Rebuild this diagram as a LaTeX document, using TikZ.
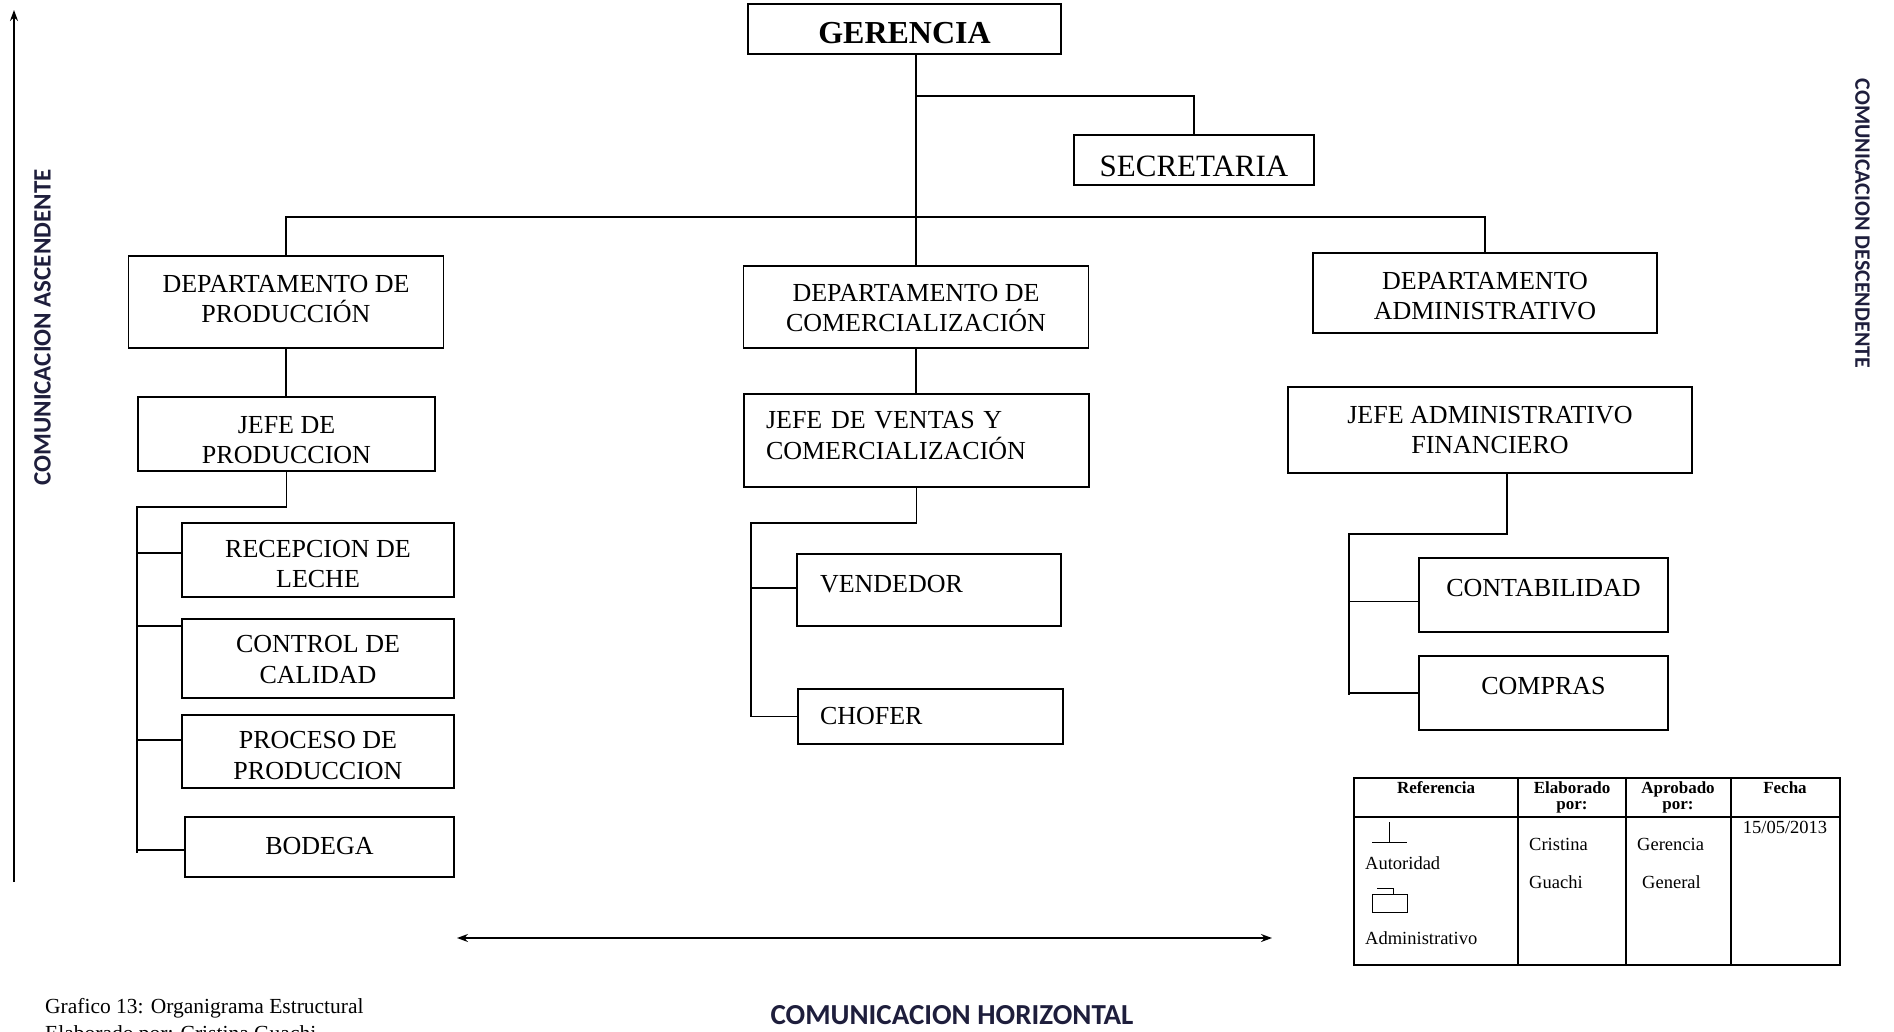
\documentclass[tikz,border=0pt]{standalone}
\usepackage{fontspec}
\setmainfont{Liberation Serif}
\newfontfamily\calib{Carlito}
\usetikzlibrary{arrows.meta}
\definecolor{labcol}{HTML}{1E1E3C}
\begin{document}
\begin{tikzpicture}[x=1pt,y=-1pt,
  box/.style={draw, line width=1.7pt, inner sep=0pt},
  txt/.style={inner sep=0pt, align=center, font=\fontsize{26}{30.5}\selectfont},
  conn/.style={line width=1.7pt},
  arr/.style={line width=1.6pt, {Stealth[length=11pt,width=8pt]}-{Stealth[length=11pt,width=8pt]}},
  side/.style={font=\calib\bfseries\fontsize{25}{30}\selectfont, text=labcol, inner sep=0pt},
  tabh/.style={font=\bfseries\fontsize{17}{16}\selectfont, inner sep=0pt, anchor=base},
  tabt/.style={font=\fontsize{18.5}{20}\selectfont, inner sep=0pt, anchor=base west},
]
\useasboundingbox (0,0) rectangle (1894,1032);

% ---- boxes ----
\node[box, minimum width=313pt, minimum height=50pt,
  label={[txt, yshift=-4.5pt, font=\bfseries\fontsize{32}{36}\selectfont]center:GERENCIA}] (ger) at (904.5,29) {};
\node[box, minimum width=240pt, minimum height=50pt,
  label={[txt, yshift=-6pt, font=\fontsize{31}{34}\selectfont]center:SECRETARIA}] (sec) at (1194,160) {};

\node[box, minimum width=315pt, minimum height=92pt,
  label={[txt, yshift=3pt]center:{DEPARTAMENTO DE\\PRODUCCIÓN}}] (dprod) at (286,302) {};
\node[box, minimum width=345pt, minimum height=82pt,
  label={[txt, yshift=-1pt]center:{DEPARTAMENTO DE\\COMERCIALIZACIÓN}}] (dcom) at (916,307) {};
\node[box, minimum width=344pt, minimum height=80pt,
  label={[txt, yshift=-3pt]center:{DEPARTAMENTO\\ADMINISTRATIVO}}] (dadm) at (1485,293) {};

\node[box, minimum width=297pt, minimum height=74pt,
  label={[txt, yshift=-6pt]center:{JEFE DE\\PRODUCCION}}] (jprod) at (286.5,434) {};
\node[box, minimum width=345pt, minimum height=93pt,
  label={[txt, align=left, text width=301pt, yshift=5pt]center:{JEFE DE VENTAS Y\\COMERCIALIZACIÓN}}] (jven) at (916.5,440.5) {};
\node[box, minimum width=404pt, minimum height=86pt,
  label={[txt, yshift=0pt]center:{JEFE ADMINISTRATIVO\\FINANCIERO}}] (jadm) at (1490,430) {};

\node[box, minimum width=272pt, minimum height=74pt,
  label={[txt, yshift=-4pt]center:{RECEPCION DE\\LECHE}}] (rec) at (318,560) {};
\node[box, minimum width=272pt, minimum height=79pt,
  label={[txt, yshift=-1pt]center:{CONTROL DE\\CALIDAD}}] (ctl) at (318,658.5) {};
\node[box, minimum width=272pt, minimum height=73pt,
  label={[txt, yshift=-4pt]center:{PROCESO DE\\PRODUCCION}}] (pro) at (318,751.5) {};
\node[box, minimum width=269pt, minimum height=60pt,
  label={[txt, yshift=1pt]center:BODEGA}] (bod) at (319.5,847) {};

\node[box, minimum width=264pt, minimum height=72pt,
  label={[txt, align=left, text width=218pt, yshift=6pt]center:VENDEDOR}] (ven) at (929,590) {};
\node[box, minimum width=265pt, minimum height=55pt,
  label={[txt, align=left, text width=221pt, yshift=0pt]center:CHOFER}] (cho) at (930.5,716.5) {};

\node[box, minimum width=249pt, minimum height=74pt,
  label={[txt, yshift=7pt]center:CONTABILIDAD}] (cont) at (1543.5,595) {};
\node[box, minimum width=249pt, minimum height=74pt,
  label={[txt, yshift=7pt]center:COMPRAS}] (comp) at (1543.5,693) {};

% ---- connectors ----
\coordinate (secy) at (0,96);
\coordinate (bus) at (0,217);
\draw[conn] (dcom.north |- ger.south) -- (dcom.north);
\draw[conn] (dcom.north |- secy) -- (sec.north |- secy) -- (sec.north);
\draw[conn] (dprod.north) -- (dprod.north |- bus) -- (dadm.north |- bus) -- (dadm.north);

\draw[conn] (dprod.south) -- (dprod.south |- jprod.north);
\coordinate (pb) at (137,507);
\coordinate (pe) at (137,853);
\draw[conn] (jprod.south) |- (pb) -- (pe);
\draw[conn] ([yshift=7pt]rec.west -| pb) -- ([yshift=7pt]rec.west);
\draw[conn] ([yshift=32.5pt]ctl.west -| pb) -- ([yshift=32.5pt]ctl.west);
\draw[conn] ([yshift=11.5pt]pro.west -| pb) -- ([yshift=11.5pt]pro.west);
\draw[conn] ([yshift=-3pt]bod.west -| pb) -- ([yshift=-3pt]bod.west);

\draw[conn] (dcom.south) -- (dcom.south |- jven.north);
\coordinate (vb) at (751,523);
\coordinate (ve) at (751,717);
\draw[conn] (jven.south) |- (vb) -- (ve);
\draw[conn] ([yshift=2pt]ven.west -| vb) -- ([yshift=2pt]ven.west);
\draw[conn] (cho.west -| vb) -- (cho.west);

\coordinate (ab) at (1349,534);
\coordinate (ae) at (1349,695);
\draw[conn] ([xshift=17pt]jadm.south) |- (ab) -- (ae);
\draw[conn] ([yshift=-6.5pt]cont.west -| ab) -- ([yshift=-6.5pt]cont.west);
\draw[conn] (comp.west -| ab) -- (comp.west);

% ---- communication arrows ----
\coordinate (upA) at (14,882);
\coordinate (upB) at (14,10);
\draw[line width=1.6pt, -{Stealth[length=11pt,width=8pt]}] (upA) -- (upB);
\coordinate (hA) at (457,938);
\coordinate (hB) at (1272,938);
\draw[arr] (hA) -- (hB);

\node[side, rotate=90] (lasc) at (42.5,327.5) {COMUNICACION ASCENDENTE};
\node[side, rotate=-90, font=\calib\bfseries\fontsize{22}{26}\selectfont] (ldesc) at (1862.5,223.5) {COMUNICACION DESCENDENTE};
\node[side, font=\calib\bfseries\fontsize{29}{32}\selectfont] (lhor) at (952,1015) {COMUNICACION HORIZONTAL};

% ---- caption ----
\node[anchor=base west, inner sep=0pt, font=\fontsize{21.5}{24}\selectfont] (cap1) at (45,1013) {Grafico 13: Organigrama Estructural};
\node[anchor=base west, inner sep=0pt, font=\fontsize{21.5}{24}\selectfont] (cap2) at (45,1040) {Elaborado por: Cristina Guachi};

% ---- reference table ----
\draw[line width=1.5pt] (1354,778) rectangle (1840,965);
\draw[line width=1.5pt] (1354,817) -- (1840,817);
\draw[line width=1.5pt] (1518,778) -- (1518,965);
\draw[line width=1.5pt] (1626,778) -- (1626,965);
\draw[line width=1.5pt] (1731,778) -- (1731,965);

\node[tabh] (h1) at (1436,793) {Referencia};
\node[tabh] (h2a) at (1572,793) {Elaborado};
\node[tabh] (h2b) at (1572,809) {por:};
\node[tabh] (h3a) at (1678,793) {Aprobado};
\node[tabh] (h3b) at (1678,809) {por:};
\node[tabh] (h4) at (1785,793) {Fecha};

\draw[line width=1pt] (1372,842) -- (1407,842);
\draw[line width=1pt] (1389,822) -- (1389,842);
\node[tabt] (t1) at (1365,869) {Autoridad};
\draw[line width=1pt] (1372,894) rectangle (1407,912);
\draw[line width=1pt] (1377,888) -- (1393,888) -- (1393,894);
\node[tabt] (t2) at (1365,944) {Administrativo};

\node[tabt] (t3) at (1529,850) {Cristina};
\node[tabt] (t4) at (1529,888) {Guachi};
\node[tabt] (t5) at (1637,850) {Gerencia};
\node[tabt] (t6) at (1642,888) {General};
\node[tabt, anchor=base] (t7) at (1785,833) {15/05/2013};
\end{tikzpicture}
\end{document}
